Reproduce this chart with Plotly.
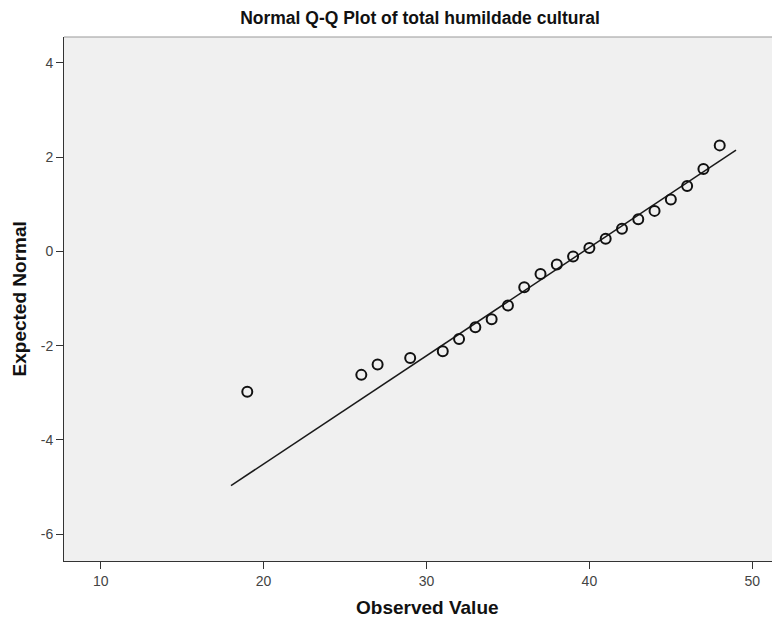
import plotly.graph_objects as go

observed = [19, 26, 27, 29, 31, 32, 33, 34, 35, 36, 37, 38, 39, 40, 41, 42, 43, 44, 45, 46, 47, 48]
expected = [-2.98, -2.62, -2.40, -2.26, -2.12, -1.86, -1.61, -1.44, -1.15, -0.76, -0.48, -0.28,
            -0.11, 0.07, 0.27, 0.48, 0.68, 0.86, 1.10, 1.39, 1.75, 2.25]

# Reference line end points
line_x = [18, 49]
line_y = [-4.97, 2.15]

x_ticks = [10, 20, 30, 40, 50]
y_ticks = [4, 2, 0, -2, -4, -6]
y_tick_labels = ["4", "2", "0", "-2", "-4", "-6"]

title = "Normal Q-Q Plot of total humildade cultural"
x_title = "Observed Value"
y_title = "Expected Normal"

FONT = "Liberation Sans, Arial, sans-serif"

# The page body adds an 8px offset, so the figure is 8px smaller than the window
W, H = 772, 612

fig = go.Figure()
fig.add_trace(go.Scatter(x=line_x, y=line_y, mode="lines",
                         line=dict(color="#1a1a1a", width=1.5), hoverinfo="skip",
                         showlegend=False))
fig.add_trace(go.Scatter(x=observed, y=expected, mode="markers",
                         marker=dict(symbol="circle-open", size=10, color="#111111",
                                     line=dict(width=2, color="#111111")),
                         showlegend=False))

fig.update_layout(
    width=W, height=H,
    margin=dict(l=56, r=0, t=29, b=59),
    paper_bgcolor="white", plot_bgcolor="#F0F0F0",
    font=dict(family=FONT, size=14, color="#444444"),
    title=dict(text="<b>" + title + "</b>", x=412 / W, xanchor="center",
               y=1 - 10 / H, yanchor="middle",
               font=dict(family=FONT, size=17.5, color="#111111")),
    xaxis=dict(range=[7.75, 51.7], tickvals=x_ticks, ticks="outside", ticklen=7,
               tickcolor="#333333", showgrid=False, zeroline=False, automargin=False,
               showline=True, linecolor="#333333", linewidth=1, mirror=False,
               tickfont=dict(size=14, color="#444444")),
    yaxis=dict(range=[-6.57, 4.55], tickvals=y_ticks, ticktext=y_tick_labels,
               ticks="outside", ticklen=7, automargin=False,
               tickcolor="#333333", showgrid=False, zeroline=False,
               showline=True, linecolor="#333333", linewidth=1, mirror=False,
               tickfont=dict(size=14, color="#444444")),
    shapes=[dict(type="line", xref="paper", yref="paper", x0=0, x1=1, y0=1, y1=1,
                 line=dict(color="#999999", width=1))],
    annotations=[
        dict(text="<b>" + x_title + "</b>", xref="paper", yref="paper", x=0.507, y=-0.0878,
             xanchor="center", yanchor="middle", showarrow=False,
             font=dict(family=FONT, size=19, color="#111111")),
        dict(text="<b>" + y_title + "</b>", xref="paper", yref="paper", x=-0.0615, y=0.501,
             xanchor="center", yanchor="middle", textangle=-90, showarrow=False,
             font=dict(family=FONT, size=19, color="#111111")),
    ],
)

fig.write_html("out.html")
